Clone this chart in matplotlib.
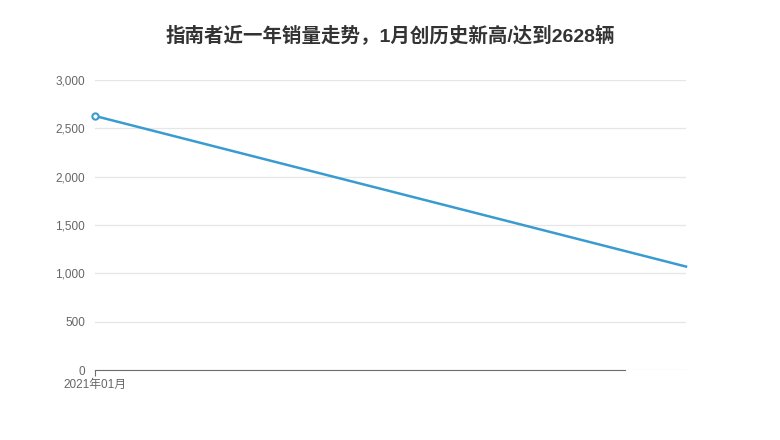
import matplotlib
matplotlib.use("Agg")
import matplotlib.pyplot as plt

plt.rcParams['font.family'] = ['Liberation Sans', 'Noto Sans CJK SC', 'DejaVu Sans']

months = ["2021年01月", "2021年02月"]
sales = [2628, 1070]
title = "指南者近一年销量走势，1月创历史新高/达到2628辆"

fig = plt.figure(figsize=(7.8, 4.4), dpi=100)
ax = fig.add_axes([95 / 780, 1 - 370 / 440, (686 - 95) / 780, (370 - 80) / 440])

x = list(range(len(months)))
ax.plot(x, sales, color="#3a9bd1", linewidth=1.8, zorder=3, clip_on=False)
ax.plot(x[0], sales[0], marker="o", markersize=4.5, markerfacecolor="white",
        markeredgecolor="#3a9bd1", markeredgewidth=1.5, zorder=4, clip_on=False)

ax.set_xlim(0, 1)
ax.set_ylim(0, 3000)
ax.set_yticks([0, 500, 1000, 1500, 2000, 2500, 3000])
ax.set_yticklabels(["0", "500", "1,000", "1,500", "2,000", "2,500", "3,000"])
ax.set_xticks([0])
ax.set_xticklabels([months[0]])

ax.grid(axis="y", color="#e6e6e6", linewidth=0.9)
ax.set_axisbelow(True)
for s in ["top", "right", "left"]:
    ax.spines[s].set_visible(False)
ax.spines["bottom"].set_color("#6e6e6e")
ax.spines["bottom"].set_bounds(0, (625 - 95) / (686 - 95))

ax.tick_params(axis="y", length=0, pad=7, labelsize=8.5, labelcolor="#666666")
ax.tick_params(axis="x", length=4, color="#6e6e6e", pad=2.5, labelsize=8.5, labelcolor="#666666")

fig.text(0.5, 1 - 35 / 440, title, ha="center", va="center", fontsize=14,
         fontweight="bold", color="#333333", family=['Liberation Sans', 'Noto Sans CJK SC', 'DejaVu Sans'])

fig.savefig("out.png", dpi=100)
